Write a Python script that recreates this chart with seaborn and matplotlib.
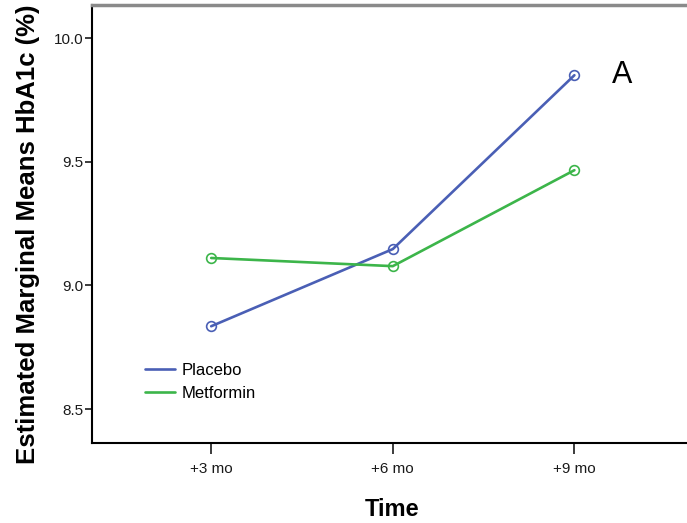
import pandas as pd
import numpy as np
import matplotlib.pyplot as plt
import seaborn as sns

# values
time_labels = ['+3 mo', '+6 mo', '+9 mo']
placebo = [8.835, 9.147, 9.850]
metformin = [9.111, 9.078, 9.466]
groups = ['Placebo', 'Metformin']
colors = {'Placebo': '#4a5fb5', 'Metformin': '#3cb54a'}

df = pd.DataFrame({
    'Time': time_labels * 2,
    'HbA1c': placebo + metformin,
    'Group': [groups[0]] * 3 + [groups[1]] * 3,
})

sns.set_style('white')
plt.rcParams['font.family'] = ['Liberation Sans', 'DejaVu Sans']
plt.rcParams['text.color'] = 'black'
plt.rcParams['axes.labelcolor'] = 'black'

fig = plt.figure(figsize=(6.87, 5.23), dpi=100)
ax = fig.add_axes([0.134, 0.153, 0.866, 0.837])

sns.lineplot(data=df, x='Time', y='HbA1c', hue='Group', palette=colors,
             marker='o', markersize=7, linewidth=1.9, ax=ax)
for line in ax.lines:
    line.set_markerfacecolor('none')
    line.set_markeredgecolor(line.get_color())
    line.set_markeredgewidth(1.2)

ax.set_xlim(-0.656, 2.62)
ax.set_ylim(8.363, 10.133)
ax.set_yticks([8.5, 9.0, 9.5, 10.0])
ax.set_yticklabels(['8.5', '9.0', '9.5', '10.0'])

ax.tick_params(axis='both', direction='out', labelsize=11, colors='#1a1a1a')
ax.tick_params(axis='y', length=5, width=1.2, left=True, pad=1)
ax.tick_params(axis='x', length=8, width=1.2, bottom=True, pad=6)

ax.spines['right'].set_visible(False)
ax.spines['left'].set_color('black')
ax.spines['left'].set_linewidth(1.5)
ax.spines['bottom'].set_color('black')
ax.spines['bottom'].set_linewidth(1.5)
ax.spines['top'].set_color('#8a8a8a')
ax.spines['top'].set_linewidth(2.5)

ax.set_xlabel('Time', fontsize=17, fontweight='bold')
ax.xaxis.set_label_coords(0.505, -0.125)
ax.set_ylabel('Estimated Marginal Means HbA1c (%)', fontsize=18.5, fontweight='bold')
ax.yaxis.set_label_coords(-0.088, 0.477)

leg = ax.legend(loc='upper left', bbox_to_anchor=(0.078, 0.198), frameon=False,
                fontsize=12, handlelength=1.8, handletextpad=0.4, labelspacing=0.5,
                borderaxespad=0)
for h in leg.legend_handles:
    h.set_marker('')

ax.text(0.891, 0.84, 'A', transform=ax.transAxes, fontsize=22,
        color='black', ha='center', va='center')

plt.savefig('out.png', dpi=100)
